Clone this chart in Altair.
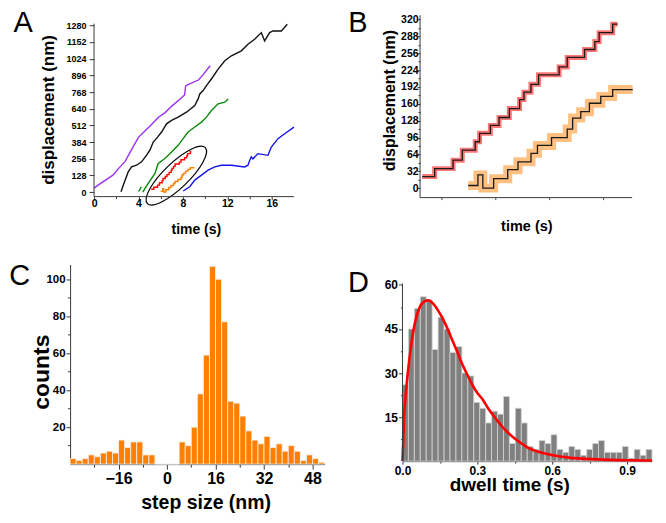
import altair as alt
import pandas as pd

FONT = "Liberation Sans"
AXC = "#3a3a3a"

# ---------------- Panel A: displacement traces (time s, displacement nm) ----------------
purple_t = [0.0, 0.4, 1.0, 1.7, 2.2, 2.8, 3.4, 4.0, 4.6, 5.2, 5.8, 6.4, 7.0, 7.7, 8.15, 8.25, 8.6, 9.4, 9.8, 10.45]
purple_d = [30, 55, 90, 130, 180, 235, 330, 420, 470, 520, 575, 610, 660, 710, 745, 815, 830, 860, 900, 970]
black_t = [2.43, 2.63, 3.08, 3.38, 3.83, 4.28, 4.73, 5.03, 5.33, 5.72, 6.08, 6.53, 6.98, 7.57, 8.32, 9.07, 9.37,
           9.52, 9.82, 10.12, 10.57, 11.17, 11.77, 12.37, 13.26, 13.86, 14.46, 15.06, 15.36, 15.81, 16.1, 16.86, 17.4]
black_d = [3, 53, 155, 193, 206, 232, 283, 321, 384, 422, 461, 524, 550, 575, 613, 664, 715,
           753, 779, 817, 868, 944, 1008, 1046, 1084, 1135, 1173, 1224, 1160, 1224, 1237, 1237, 1288]
green1_t = [4.0, 4.1, 4.25]
green1_d = [5, 15, 40]
green2_t = [4.4, 4.6, 4.88, 5.48, 5.78, 6.38, 6.98, 7.57, 8.02, 8.47, 9.07, 9.67, 10.12, 10.57, 11.17, 11.77, 12.07]
green2_d = [0, 30, 66, 143, 219, 257, 308, 359, 410, 461, 499, 537, 575, 626, 677, 690, 715]
blue_t = [8.02, 8.62, 9.07, 9.67, 10.27, 10.87, 11.47, 12.37, 13.56, 13.86, 14.0, 14.16, 14.3, 14.76, 15.66,
          15.96, 16.56, 17.16, 18.0]
blue_d = [8, 41, 92, 130, 168, 193, 206, 206, 193, 206, 240, 270, 255, 295, 282, 346, 410, 448, 499]
ellipse_t, ellipse_d = 7.41, 126

# ---------------- Panel B: stepping traces ----------------
red_step_t = [5.15, 5.38, 5.72, 5.89, 6.13, 6.21, 6.41, 6.57, 6.76, 6.95, 7.03, 7.16, 7.30, 7.68, 7.83,
              8.15, 8.34, 8.42, 8.67, 8.76]
red_step_d = [22, 37, 53, 72, 88, 104, 119, 134, 151, 168, 182, 197, 215, 230, 248, 263, 278, 295, 311, 311]
orange_step_t = [6.0, 6.18, 6.27, 6.47, 6.73, 6.92, 7.16, 7.28, 7.54, 7.83, 7.93, 8.08, 8.24, 8.45, 8.67, 9.04]
orange_step_d = [5, 25, 0, 18, 35, 50, 66, 81, 96, 112, 133, 145, 161, 174, 187, 187]

# ---------------- Panel C: step size histogram (2 nm bins from -32 nm) ----------------
c_first_edge = -32
c_bin_width = 2
c_counts = [3, 2, 3, 5, 4, 6, 7, 6, 13, 9, 12, 12, 5, 5,
            0, 0, 0, 0,
            12, 10, 20, 38, 59, 107, 100, 77, 34, 33, 26, 18, 13, 11, 15, 9, 11, 7, 10, 7, 2, 5, 3, 1]

# ---------------- Panel D: dwell time histogram + fit ----------------
d_bin_width = 1.0 / 42
d_counts = [26, 45, 52, 56, 55, 38, 49, 45, 37, 39, 30, 29, 20, 18, 13, 17, 16, 22, 6, 18, 13,
            5, 4, 7, 6, 9, 4, 3, 5, 4, 2, 4, 6, 7, 3, 3, 3, 5, 1, 4, 2, 4]
fit_t = [0, 0.0037, 0.0065, 0.013, 0.022, 0.035, 0.051, 0.07, 0.09, 0.103, 0.122, 0.141, 0.161, 0.18, 0.199,
         0.219, 0.238, 0.257, 0.277, 0.296, 0.322, 0.347, 0.373, 0.399, 0.425, 0.451, 0.476, 0.502, 0.541,
         0.579, 0.631, 0.667, 0.782, 0.911, 1.0]
fit_c = [0, 7.8, 14.6, 22.6, 30.5, 39.6, 47.5, 52.6, 54.5, 54.8, 53.7, 51.5, 48.6, 45.2, 41.3,
         37.3, 33.3, 29.9, 26.5, 23.7, 20.9, 17.5, 14.6, 11.8, 9.5, 7.6, 6.1, 4.6, 3.3,
         2.4, 1.6, 1.2, 0.6, 0.3, 0.2]

series_names = ["purple", "black", "green", "blue", "red", "orange"]
series_colors = ["#9b30f0", "#111111", "#0a8a0a", "#1414f0", "#ff0000", "#ff8000"]


def frame(name, ts, ds, seg=None):
    return pd.DataFrame({"t": ts, "d": ds, "series": name, "seg": seg or name})


def letter(txt, x, y):
    return alt.Chart(pd.DataFrame({"s": [txt]})).mark_text(
        align="left", baseline="alphabetic", font=FONT, fontSize=29, fontWeight="normal", color="black"
    ).encode(x=alt.value(x), y=alt.value(y), text="s:N")


def ticksize(test, minor, major):
    return {"condition": {"test": test, "value": minor}, "value": major}


# ======== Panel A (plot box widened left/up to share the grid; axis lines drawn as rules) ========
dfA_lin = pd.concat([
    frame("purple", purple_t, purple_d),
    frame("black", black_t, black_d),
    frame("green", green1_t, green1_d, "green1"),
    frame("green", green2_t, green2_d, "green2"),
    frame("blue", blue_t, blue_d),
])
dfA_step = pd.concat([frame("red", red_step_t, red_step_d), frame("orange", orange_step_t, orange_step_d)])

xA = alt.X("t:Q", scale=alt.Scale(domain=[-2.156, 18], nice=False, zero=False),
           axis=alt.Axis(values=list(range(0, 17, 2)), format="d", domain=False,
                         labelExpr="datum.value % 4 == 0 ? datum.label : ''",
                         tickSize=ticksize("datum.value % 4 != 0", 2, 3),
                         labelFontSize=10.5, labelPadding=-1,
                         title="time (s)", titleFontSize=14, titleX=126, titleY=37,
                         titleAlign="center", titleBaseline="alphabetic", titleAngle=0))
yA = alt.Y("d:Q", scale=alt.Scale(domain=[-35, 1357.4], nice=False, zero=False),
           axis=alt.Axis(values=list(range(0, 1281, 128)), format="d", labelFontSize=9, domain=False,
                         tickSize=5, labelPadding=3, offset=-24,
                         title="displacement (nm)", titleFontSize=17, titleX=-41, titleY=94.4,
                         titleAngle=270, titleAlign="center", titleBaseline="alphabetic"))
colA = alt.Color("series:N", scale=alt.Scale(domain=series_names, range=series_colors), legend=None)

# ellipse outline as a symbol path made of cubic curves (unit box, scaled by the symbol size)
ELLIPSE = ("M -1 0 C -1 -0.171 -0.552 -0.31 0 -0.31 C 0.552 -0.31 1 -0.171 1 0 "
           "C 1 0.171 0.552 0.31 0 0.31 C -0.552 0.31 -1 0.171 -1 0 Z")

a_lines = alt.Chart(dfA_lin).mark_line(strokeWidth=1.4).encode(x=xA, y=yA, color=colA, detail="seg:N")
a_steps = alt.Chart(dfA_step).mark_line(strokeWidth=1.4, interpolate="step-after").encode(
    x=xA, y=yA, color=colA, detail="seg:N")
a_ell = alt.Chart(pd.DataFrame({"t": [ellipse_t], "d": [ellipse_d]})).mark_point(
    shape=ELLIPSE, size=6500, angle=316, filled=False, color="black", strokeWidth=1.2, opacity=1
).encode(x=xA, y=yA)
a_yline = alt.Chart(pd.DataFrame({"t": [0], "d": [-35], "d2": [1293]})).mark_rule(
    color=AXC, strokeWidth=1).encode(x=xA, y=yA, y2="d2:Q")
a_xline = alt.Chart(pd.DataFrame({"t": [0], "t2": [18], "d": [-35]})).mark_rule(
    color=AXC, strokeWidth=1).encode(x=xA, x2="t2:Q", y=yA)

panelA = alt.layer(a_lines, a_steps, a_ell, a_yline, a_xline, letter("A", -56.7, 16.7)).properties(
    width=224.3, height=181.7)

# ======== Panel B (plot box widened left to share the grid column with D) ========
dfB_red = frame("red", red_step_t, red_step_d)
dfB_orange = frame("orange", orange_step_t, orange_step_d)
dfB = pd.concat([dfB_red, dfB_orange])

xB = alt.X("t:Q", scale=alt.Scale(domain=[4.785, 9.03], nice=False, zero=False),
           axis=alt.Axis(values=[5.5, 6, 6.5, 7, 7.5, 8, 8.5, 9], format="d", domain=False,
                         labelExpr="datum.value % 1 == 0 ? datum.label : ''",
                         tickSize=ticksize("datum.value % 1 != 0", 2, 4),
                         labelFontSize=11, labelPadding=4,
                         title="time (s)", titleFontSize=14.5, titleX=124.1, titleY=32.7,
                         titleAlign="center", titleBaseline="alphabetic", titleAngle=0))
yB = alt.Y("d:Q", scale=alt.Scale(domain=[-18, 328], nice=False, zero=False),
           axis=alt.Axis(values=list(range(0, 321, 16)), format="d", domain=False, offset=-17.6,
                         labelExpr="datum.value % 32 == 0 ? datum.label : ''",
                         tickSize=ticksize("datum.value % 32 != 0", 2, 3),
                         labelFontSize=10.5, labelPadding=-1,
                         title="displacement (nm)", titleFontSize=16, titleX=-25.8, titleY=85,
                         titleAngle=270, titleAlign="center", titleBaseline="alphabetic"))

b_red = alt.Chart(dfB_red).mark_line(interpolate="step-after", strokeWidth=5, color="#ff1a1a", opacity=0.6).encode(
    x=xB, y=yB)
b_orange = alt.Chart(dfB_orange).mark_line(interpolate="step-after", strokeWidth=9, color="#ff8c1a",
                                           opacity=0.55).encode(x=xB, y=yB)
b_black = alt.Chart(dfB).mark_line(interpolate="step-after", strokeWidth=1.3, color="#1a1a1a").encode(
    x=xB, y=yB, detail="series:N")
b_yline = alt.Chart(pd.DataFrame({"t": [5.11], "d": [-18], "d2": [328]})).mark_rule(
    color=AXC, strokeWidth=1).encode(x=xB, y=yB, y2="d2:Q")
b_xline = alt.Chart(pd.DataFrame({"t": [5.11], "t2": [9.03], "d": [-18]})).mark_rule(
    color=AXC, strokeWidth=1).encode(x=xB, x2="t2:Q", y=yB)

panelB = alt.layer(b_red, b_orange, b_black, b_yline, b_xline, letter("B", -54.4, 16.7)).properties(
    width=230.1, height=182.7)

# ======== Panel C ========
dfC = pd.DataFrame({
    "lo": [c_first_edge + c_bin_width * i for i in range(len(c_counts))],
    "hi": [c_first_edge + c_bin_width * (i + 1) for i in range(len(c_counts))],
    "count": c_counts,
})
xC = alt.X("lo:Q", scale=alt.Scale(domain=[-32, 52], nice=False, zero=False),
           axis=alt.Axis(values=[-24, -16, -8, 0, 8, 16, 24, 32, 40, 48], format="d",
                         labelExpr="datum.value % 16 == 0 ? datum.label : ''",
                         tickSize=ticksize("datum.value % 16 != 0", 3, 5),
                         labelFontSize=16, labelPadding=1,
                         title="step size (nm)", titleFontSize=19.5, titleX=135.8, titleY=44,
                         titleAlign="center", titleBaseline="alphabetic", titleAngle=0))
yC = alt.Y("count:Q", scale=alt.Scale(domain=[0, 108], nice=False, zero=False),
           axis=alt.Axis(values=list(range(10, 101, 10)), format="d",
                         labelExpr="datum.value % 20 == 0 ? datum.label : ''",
                         tickSize=ticksize("datum.value % 20 != 0", 2.5, 4),
                         labelFontSize=11.5, labelPadding=1,
                         title="counts", titleFontSize=23, titleX=-21.7, titleY=107.3,
                         titleAngle=270, titleAlign="center", titleBaseline="alphabetic"))
c_bars = alt.Chart(dfC).mark_rect(color="#ff8000", stroke="#f2f2f2", strokeWidth=0.8).encode(
    x=xC, x2="hi:Q", y=yC, y2=alt.datum(0))
panelC = alt.layer(c_bars, letter("C", -61, 20.7)).properties(width=255, height=200)

# ======== Panel D (plot box raised to share the grid row with C; y axis line drawn as rule) ========
dfD = pd.DataFrame({
    "lo": [d_bin_width * i for i in range(len(d_counts))],
    "hi": [d_bin_width * (i + 1) for i in range(len(d_counts))],
    "count": d_counts,
})
dfFit = pd.DataFrame({"lo": fit_t, "count": fit_c})
xD = alt.X("lo:Q", scale=alt.Scale(domain=[0, 1.0], nice=False, zero=False),
           axis=alt.Axis(values=[0, 0.15, 0.3, 0.45, 0.6, 0.75, 0.9], format=".1f",
                         labelExpr="round(datum.value * 100) % 30 == 0 ? datum.label : ''",
                         tickSize=ticksize("round(datum.value * 100) % 30 != 0", 2, 3),
                         labelFontSize=12, labelPadding=1.4,
                         title="dwell time (s)", titleFontSize=19, titleX=107, titleY=29,
                         titleAlign="center", titleBaseline="alphabetic", titleAngle=0))
yD = alt.Y("count:Q", scale=alt.Scale(domain=[0, 66.96], nice=False, zero=False),
           axis=alt.Axis(values=[7.5, 15, 22.5, 30, 37.5, 45, 52.5, 60], format="d", domain=False,
                         labelExpr="datum.value % 15 == 0 ? datum.label : ''",
                         tickSize=ticksize("datum.value % 15 != 0", 2, 4),
                         labelFontSize=12, labelPadding=1, title=None))
d_bars = alt.Chart(dfD).mark_rect(color="#808080", stroke="#d6d6d6", strokeWidth=0.8).encode(
    x=xD, x2="hi:Q", y=yD, y2=alt.datum(0))
d_fit = alt.Chart(dfFit).mark_line(color="#ff0000", strokeWidth=2.6, interpolate="monotone").encode(x=xD, y=yD)
d_yline = alt.Chart(pd.DataFrame({"lo": [0], "count": [0], "c2": [60.5]})).mark_rule(
    color=AXC, strokeWidth=1).encode(x=xD, y=yD, y2="c2:Q")
panelD = alt.layer(d_bars, d_fit, d_yline, letter("D", -54.5, 27.3)).properties(width=250, height=197)

chart = alt.concat(
    panelA, panelB, panelC, panelD, columns=2, bounds="flush",
    spacing={"row": 66.7, "column": 78}
).properties(
    padding={"left": 1.2, "top": -0.2, "right": 0, "bottom": 0}
).configure_view(stroke=None).configure_axis(
    labelFont=FONT, titleFont=FONT, labelFontWeight="bold", titleFontWeight="bold",
    labelColor="black", titleColor="black", domainColor=AXC, tickColor=AXC,
    domainWidth=1, tickWidth=1, grid=False, labelOverlap=False, labelFlush=False
)

chart.save("out.html", embed_options={"renderer": "svg", "actions": False})
